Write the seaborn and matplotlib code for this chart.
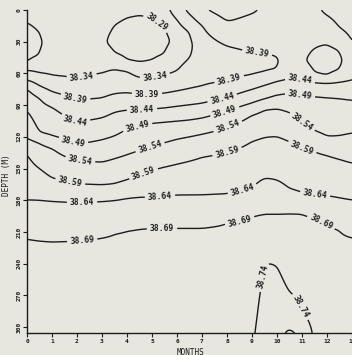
import numpy as np
import matplotlib
matplotlib.use("Agg")
import matplotlib.pyplot as plt
import seaborn as sns

nan = np.nan

# ---- data (month columns, depth in m) ----
months = [0, 0.5, 1, 2, 3, 3.5, 4, 4.5, 5, 5.5, 6, 6.5, 7, 8, 9, 9.5, 10, 10.5, 11, 11.5, 12, 12.5, 13]

surface_sal = [38.31, 38.31, 38.31, 38.315, 38.31, 38.305, 38.30, 38.295, 38.30, 38.32, 38.37, 38.40,
               38.435, 38.46, 38.45, 38.43, 38.42, 38.42, 38.42, 38.43, 38.45, 38.46, 38.47]
core_sal = [38.27, 38.285, 38.305, 38.31, 38.295, 38.28, 38.27, 38.265, 38.27, 38.28, 38.30, 38.33,
            38.36, 38.37, 38.38, 38.385, 38.386, 38.40, 38.397, 38.375, 38.37, 38.38, 38.42]
core_depth = [30, 32, 30, 35, 32, 28, 28, 27, 27, 27, 30, 33, 42, 50, 51, 50, 50, 45, 48, 48, 47, 47, 50]
bottom_sal = [38.72, 38.72, 38.72, 38.72, 38.72, 38.72, 38.72, 38.72, 38.72, 38.72, 38.72, 38.72,
              38.72, 38.72, 38.73, 38.77, 38.775, 38.80, 38.78, 38.73, 38.72, 38.72, 38.72]

d_3829_top = [11.4, 21, nan, nan, nan, 14, 7, 5, 7, 13, nan, nan, nan, nan, nan, nan, nan, nan, nan, nan, nan, nan, nan]
d_3829_bot = [50.1, 43, nan, nan, nan, 41, 48, 50, 48, 42, nan, nan, nan, nan, nan, nan, nan, nan, nan, nan, nan, nan, nan]
d_3834_top = [nan, nan, nan, nan, nan, nan, nan, nan, nan, nan, 9.5, 21, nan, nan, nan, nan, nan, nan, nan, nan, nan, nan, nan]
d_3834 = [56.8, 59.6, 62.4, 65.3, 59.9, 55.8, 57.6, 64, 63.4, 61.5, 57.7, 45.4, nan, nan, nan, nan, nan, nan, nan, nan, nan, nan, nan]
d_3839_top = [nan, nan, nan, nan, nan, nan, nan, nan, nan, nan, nan, 4, 15, 34, 40, 41, 43.5, nan, nan, nan, nan, nan, nan]
d_3839 = [66.2, 71.9, 77.4, 85.1, 83.3, 79.3, 78.3, 79.7, 80, 78.8, 76.7, 74.5, 72.4, 67.7, 61.8, 59.3, 56.8, nan, nan, nan, nan, nan, nan]
d_3839_eddy_top = [nan, nan, nan, nan, nan, nan, nan, nan, nan, nan, nan, nan, nan, nan, nan, nan, nan, nan, nan, 36, 32, 38, nan]
d_3839_eddy_bot = [nan, nan, nan, nan, nan, nan, nan, nan, nan, nan, nan, nan, nan, nan, nan, nan, nan, nan, nan, 60, 63, 57, nan]
d_3844_top = [nan, nan, nan, nan, nan, nan, nan, nan, nan, nan, nan, nan, nan, 11, 3, nan, nan, nan, nan, nan, 5, 17, 31]
d_3844 = [73.8, 83.3, 91.8, 106.4, 102, 96.5, 94.6, 94.6, 93.7, 92.7, 91.1, 89.7, 88.3, 83, 75.2, 71.3, 67.4, 64.8, 66.2, 68.6, 69, 68.1, 66.2]
d_3849 = [94.6, 116.4, 119.2, 127.3, 122.8, 119.2, 112.6, 108.8, 106.9, 105.9, 105, 104, 102.2, 95.6, 88, 84.2, 80.4, 78.5, 80.4, 81.4, 82.3, 83.3, 85.1]
d_3854 = [121.1, 125.8, 130.6, 142.4, 144, 140.6, 136.9, 132.9, 129.1, 125.4, 122, 119.7, 117.3, 110.7, 99.2, 94, 92.9, 96.5, 106, 114.5, 120, 119.2, 116.4]
d_3859 = [135.3, 150, 159, 164.6, 165.6, 164.6, 160.8, 156.1, 151.4, 148.5, 145.7, 142.8, 139, 134.3, 124, 120.2, 119.2, 124, 130.6, 133.4, 137.2, 141, 144.8]
d_3864 = [179.8, 179.8, 180.7, 181.7, 180.7, 179.8, 177.9, 176.9, 176.9, 176, 175, 175, 175, 174.1, 168.4, 158.9, 160.8, 169.3, 173.1, 175, 176, 177.9, 179.8]
d_3869 = [215.7, 217.6, 218.5, 217.6, 214.8, 211, 208.1, 206.2, 205.3, 205.3, 205.3, 205.3, 205.3, 200.6, 194.9, 193, 193, 192, 192, 195.8, 200.6, 207.2, 214.8]
d_3874 = [nan, nan, nan, nan, nan, nan, nan, nan, nan, nan, nan, nan, nan, nan, nan, 238, 241, 267, 287, nan, nan, nan, nan]
d_3879 = [nan, nan, nan, nan, nan, nan, nan, nan, nan, nan, nan, nan, nan, nan, nan, nan, nan, 301, nan, nan, nan, nan, nan]

levels = [38.29, 38.34, 38.39, 38.44, 38.49, 38.54, 38.59, 38.64, 38.69, 38.74, 38.79]
y_ticks = [0, 30, 60, 90, 120, 150, 180, 210, 240, 270, 300]
x_ticks = list(range(0, 14))

crossings = [(d_3829_top, 38.29), (d_3829_bot, 38.29), (d_3834_top, 38.34), (d_3834, 38.34),
             (d_3839_top, 38.39), (d_3839, 38.39), (d_3839_eddy_top, 38.39), (d_3839_eddy_bot, 38.39),
             (d_3844_top, 38.44), (d_3844, 38.44), (d_3849, 38.49), (d_3854, 38.54), (d_3859, 38.59),
             (d_3864, 38.64), (d_3869, 38.69), (d_3874, 38.74), (d_3879, 38.79)]

BOTTOM = 306.0
depth_f = np.arange(0, BOTTOM + 0.01, 0.5)
month_f = np.arange(0, 13.0001, 0.02)

cols = []
for i in range(len(months)):
    kd = [0.0, core_depth[i], BOTTOM]
    kv = [surface_sal[i], core_sal[i], bottom_sal[i]]
    for arr, lev in crossings:
        if not np.isnan(arr[i]):
            kd.append(arr[i])
            kv.append(lev)
    kd = np.array(kd); kv = np.array(kv)
    o = np.argsort(kd)
    cols.append(np.interp(depth_f, kd[o], kv[o]))
cols = np.array(cols)
grid = np.array([np.interp(month_f, months, cols[:, j]) for j in range(len(depth_f))])


def smooth(a, sigma, axis):
    r = int(3 * sigma) + 1
    x = np.arange(-r, r + 1)
    k = np.exp(-0.5 * (x / sigma) ** 2)
    k /= k.sum()
    pad = [(0, 0)] * a.ndim
    pad[axis] = (r, r)
    ap = np.pad(a, pad, mode="edge")
    return np.apply_along_axis(lambda v: np.convolve(v, k, mode="valid"), axis, ap)


grid = smooth(grid, 6, 1)
grid = smooth(grid, 4, 0)

# ---- drawing ----
bg = "#e7e7e0"
ink = "#1c1c1c"
sns.set_theme(style="ticks")
plt.rcParams["font.family"] = ["DejaVu Sans Mono"]
plt.rcParams["font.weight"] = "bold"
plt.rcParams["axes.edgecolor"] = ink

fig = plt.figure(figsize=(3.52, 3.55), dpi=100, facecolor=bg)
ax = fig.add_axes([27 / 352, 22 / 355, 327.5 / 352, 323 / 355])
ax.set_facecolor(bg)

cs = ax.contour(month_f, depth_f, grid, levels=levels, colors=ink, linewidths=1.0)
ax.set_xlim(0, 13.1)
ax.set_ylim(305.6, 0)

label_pos = [
    (5.1, 16),
    (2.2, 64.3), (5.12, 63.4),
    (1.92, 85), (4.8, 80.4), (8.1, 66.5), (9.2, 40.7),
    (1.92, 106), (4.6, 94.6), (7.8, 82.5), (10.92, 66.2),
    (1.84, 125.8), (4.4, 108.8), (7.92, 96.5), (10.92, 80.4),
    (2.12, 143.8), (4.92, 129.6), (8.04, 110.7), (11.0, 106),
    (1.72, 163.7), (4.64, 153.3), (8.04, 137.2), (11.0, 130.6),
    (2.2, 181.6), (5.32, 176.9), (8.64, 172.2), (11.52, 175),
    (2.2, 215.7), (5.4, 205.3), (8.52, 200.6), (11.8, 198.7),
    (9.44, 252.6), (10.92, 281),
]
ax.clabel(cs, levels, fmt="%.2f", manual=label_pos, inline=True, inline_spacing=3,
          fontsize=5.8, colors=ink)

sns.despine(ax=ax)
ax.spines["left"].set_linewidth(1.0)
ax.spines["bottom"].set_linewidth(1.0)
ax.set_yticks(y_ticks)
ax.set_yticklabels([str(v) for v in y_ticks], rotation=90, va="center")
ax.set_xticks(x_ticks)
ax.set_xticklabels([str(v) for v in x_ticks])
ax.tick_params(axis="both", labelsize=4.5, length=3, width=0.8, pad=1, colors=ink)
ax.set_ylabel("DEPTH (M)", fontsize=5.5, color=ink)
ax.yaxis.set_label_coords(-0.049, 0.49)
ax.set_xlabel("MONTHS", fontsize=5.5, color=ink)
ax.xaxis.set_label_coords(0.498, -0.045)

fig.savefig("out.png", dpi=100, facecolor=bg)
